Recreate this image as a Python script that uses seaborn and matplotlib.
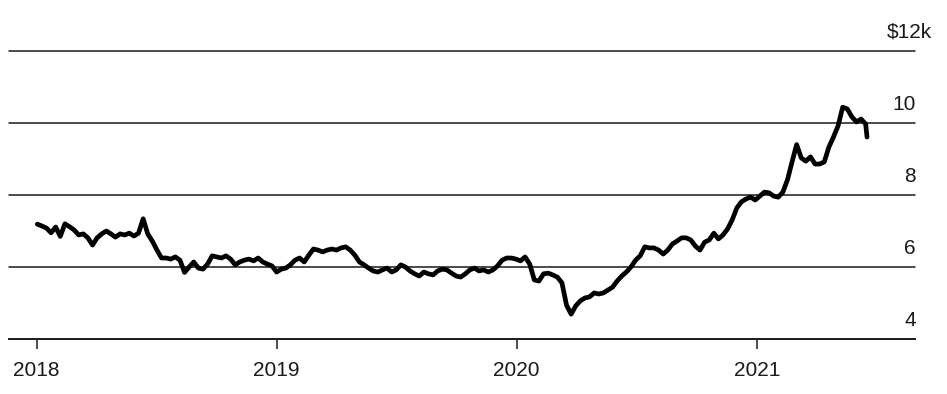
import matplotlib
matplotlib.use("Agg")
import matplotlib.pyplot as plt
import matplotlib.dates as mdates
import matplotlib.transforms as mtransforms
import numpy as np
import pandas as pd
import seaborn as sns

# Weekly copper price readings, $ thousand per ton (2018-01-02 .. 2021-06-15, then 2021-06-17)
start_date = "2018-01-02"
last_date = "2021-06-17"
price_k = [
    7.19, 7.14, 7.08, 6.95, 7.11, 6.85, 7.20, 7.12, 7.03, 6.89,
    6.92, 6.81, 6.61, 6.81, 6.92, 7.00, 6.92, 6.83, 6.92, 6.89,
    6.94, 6.86, 6.94, 7.34, 6.92, 6.72, 6.47, 6.25, 6.25, 6.22,
    6.28, 6.19, 5.85, 6.00, 6.14, 5.97, 5.94, 6.08, 6.31, 6.28,
    6.25, 6.31, 6.22, 6.06, 6.14, 6.19, 6.22, 6.17, 6.25, 6.14,
    6.08, 6.03, 5.86, 5.94, 5.97, 6.06, 6.19, 6.25, 6.14, 6.33,
    6.50, 6.47, 6.42, 6.47, 6.50, 6.47, 6.53, 6.56, 6.47, 6.33,
    6.14, 6.06, 5.97, 5.89, 5.86, 5.92, 5.97, 5.86, 5.92, 6.06,
    6.00, 5.89, 5.81, 5.75, 5.86, 5.81, 5.78, 5.89, 5.94, 5.92,
    5.83, 5.75, 5.72, 5.81, 5.92, 5.97, 5.89, 5.92, 5.86, 5.92,
    6.03, 6.19, 6.25, 6.25, 6.22, 6.17, 6.28, 6.08, 5.64, 5.61,
    5.81, 5.83, 5.78, 5.72, 5.56, 4.94, 4.69, 4.92, 5.06, 5.14,
    5.17, 5.28, 5.25, 5.28, 5.36, 5.44, 5.61, 5.75, 5.86, 6.00,
    6.19, 6.31, 6.56, 6.53, 6.53, 6.47, 6.36, 6.47, 6.64, 6.72,
    6.81, 6.81, 6.75, 6.58, 6.47, 6.69, 6.75, 6.94, 6.78, 6.89,
    7.06, 7.31, 7.64, 7.81, 7.89, 7.94, 7.86, 7.97, 8.08, 8.06,
    7.97, 7.94, 8.08, 8.42, 8.92, 9.40, 9.03, 8.94, 9.06, 8.86,
    8.86, 8.92, 9.33, 9.61, 9.92, 10.44, 10.39, 10.17, 10.03, 10.11,
    9.97, 9.61,
]
dates = list(pd.date_range(start_date, periods=len(price_k) - 1, freq="7D")) + [pd.Timestamp(last_date)]
df = pd.DataFrame({"date": dates, "price": price_k})

grid_values = [6, 8, 10, 12]
y_labels = {4: "4", 6: "6", 8: "8", 10: "10", 12: "$12k"}
year_ticks = ["2018-01-01", "2019-01-01", "2020-01-01", "2021-01-01"]
year_labels = ["2018", "2019", "2020", "2021"]

sns.set_style("white")
plt.rcParams["font.family"] = ["Liberation Sans", "DejaVu Sans"]

fig = plt.figure(figsize=(9.47, 3.94), dpi=100)
ax = fig.add_axes([9 / 947, 55 / 394, (915 - 9) / 947, (339 - 43.8) / 394])

for g in grid_values:
    ax.axhline(g, color="#1a1a1a", lw=1.1, zorder=1, clip_on=False)

sns.lineplot(data=df, x="date", y="price", ax=ax, color="black", lw=3.4,
             solid_joinstyle="round", solid_capstyle="round", zorder=3)

ax.set_xlim(pd.Timestamp("2017-11-20"), pd.Timestamp("2021-08-29"))
ax.set_ylim(4, 12.2)

for s in ["top", "right", "left"]:
    ax.spines[s].set_visible(False)
ax.spines["bottom"].set_color("#1a1a1a")
ax.spines["bottom"].set_linewidth(1.4)

ax.set_xticks([pd.Timestamp(t) for t in year_ticks])
ax.set_xticklabels(year_labels)
ax.tick_params(axis="x", direction="out", length=7, width=1.1, color="#1a1a1a",
               labelsize=15, labelcolor="#1a1a1a", pad=9, bottom=True)
ax.set_yticks([])
ax.set_xlabel("")
ax.set_ylabel("")

trans = mtransforms.blended_transform_factory(ax.transAxes, ax.transData)
for v, lab in y_labels.items():
    dx = 12.5 if lab.startswith("$") else 0.5
    ax.annotate(lab, xy=(1.0, v), xycoords=trans, xytext=(dx, 9.5),
                textcoords="offset points", ha="right", va="baseline",
                fontsize=15, color="#1a1a1a", annotation_clip=False)

fig.savefig("out.png", dpi=100, facecolor="white")
